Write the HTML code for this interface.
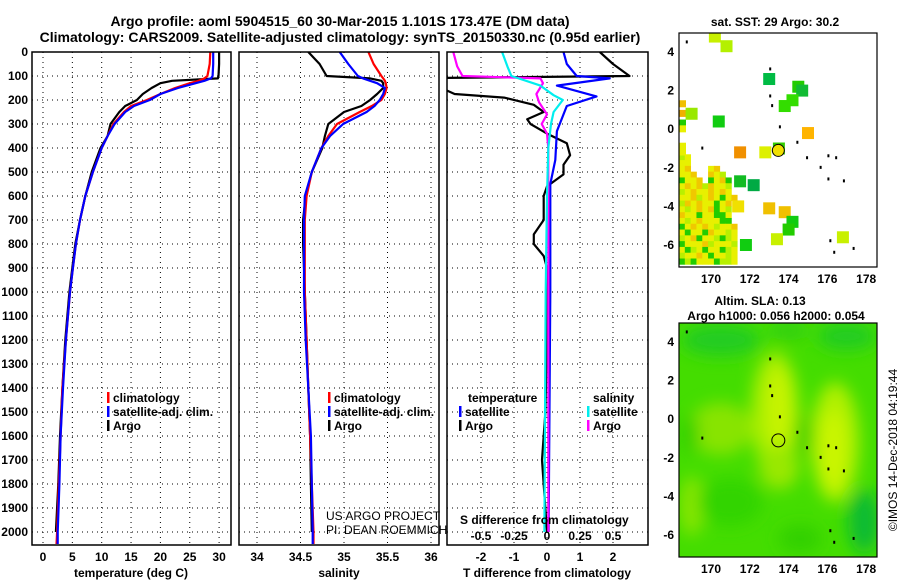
<!DOCTYPE html>
<html><head><meta charset="utf-8"><style>
html,body{margin:0;padding:0;background:#fff}
svg{display:block;font-family:"Liberation Sans",sans-serif}
.b{font-weight:bold;font-size:12px}
.t{font-weight:bold;font-size:14px}
</style></head><body>
<svg id="s" width="900" height="580" viewBox="0 0 900 580">
<defs>
<clipPath id="c1"><rect x="32" y="52" width="199" height="493"/></clipPath>
<clipPath id="c2"><rect x="239" y="52" width="200" height="493"/></clipPath>
<clipPath id="c3"><rect x="447" y="52" width="201" height="493"/></clipPath>
<clipPath id="cm1"><rect x="679" y="33" width="198" height="234"/></clipPath>
<clipPath id="cm2"><rect x="679" y="323" width="198" height="234"/></clipPath>
<filter id="blur" x="-50%" y="-50%" width="200%" height="200%"><feGaussianBlur stdDeviation="8"/></filter>
</defs>
<text class="t" x="340" y="26" text-anchor="middle">Argo profile: aoml 5904515_60 30-Mar-2015 1.101S 173.47E (DM data)</text>
<text class="t" x="340" y="42" text-anchor="middle">Climatology: CARS2009. Satellite-adjusted climatology: synTS_20150330.nc (0.95d earlier)</text>
<g id="g"></g>
</svg>
<script>
// ---------- data ----------
const depthTicks=[0,100,200,300,400,500,600,700,800,900,1000,1100,1200,1300,1400,1500,1600,1700,1800,1900,2000];
const tempTicks=[0,5,10,15,20,25,30];
const salTicks=[34,34.5,35,35.5,36];
const salTickLabels=["34","34.5","35","35.5","36"];
const tdiffTicks=[-2,-1,0,1,2];
const sdiffTicks=[-0.5,-0.25,0,0.25,0.5];
const sdiffTickLabels=["-0.5","-0.25","0","0.25","0.5"];
const lonTicks=[170,172,174,176,178];
const latTicks=[4,2,0,-2,-4,-6];

const depths=[0,50,100,110,120,130,150,175,200,225,250,300,350,400,500,600,700,800,900,1000,1200,1400,1600,1800,2000,2050];
const tempClim=[28.5,28.4,28.0,27.5,26.5,25,22.5,20,17.7,15,13.8,12,11,10,8.5,7.2,6.3,5.6,5.1,4.6,3.9,3.3,3.0,2.7,2.4,2.3];
const tempSat=[29,29,28.9,28.6,27.5,26,23,20,18.2,15.5,14,12.2,11,10,8.5,7.2,6.3,5.6,5.1,4.6,3.9,3.4,3.0,2.8,2.5,2.5];
const tempArgo=[30,30,29.9,29.8,22,20,18.5,17,16,14,13,11.5,11,9.8,8.3,7.2,6.3,5.5,5.0,4.5,3.8,3.3,2.9,2.6,2.2,null];
const salClim=[35.28,35.34,35.43,35.45,35.47,35.48,35.49,35.47,35.43,35.32,35.18,34.92,34.82,34.74,34.63,34.57,34.55,34.55,34.55,34.55,34.57,34.59,34.61,34.63,34.65,34.65];
const salSat=[34.95,35.05,35.16,35.22,35.3,35.38,35.47,35.45,35.41,35.35,35.26,34.99,34.84,34.74,34.63,34.55,34.54,34.54,34.54,34.54,34.56,34.59,34.62,34.63,34.64,34.64];
const salArgo=[34.59,34.72,34.8,35.3,35.43,35.45,35.45,35.38,35.3,35.2,35.0,34.82,34.78,34.75,34.63,34.56,34.53,34.53,34.54,34.55,34.57,34.59,34.61,34.62,34.63,null];

const tdArgoDepth=[0,50,100,108,130,150,175,190,220,250,280,300,340,380,430,470,510,560,600,700,760,800,850,900,1000,1200,1500,1700,2000];
const tdArgo=[1.6,2.0,2.5,-3.2,-3.2,-3.2,-2.8,-1.3,-0.4,-0.1,-0.6,-0.5,0.0,0.6,0.7,0.5,0.5,0.0,-0.1,-0.1,-0.4,-0.4,-0.1,0,0,0,-0.05,-0.15,0];
const tdSatDepth=[0,50,100,110,140,185,225,260,330,450,550,1000,2000];
const tdSat=[0.5,0.6,0.9,1.9,0.3,1.5,0.6,0.5,0.3,0.25,0.1,0.1,0.05];
const sdArgoDepth=[0,60,100,110,130,175,210,260,300,340,400,600,1000,2000];
const sdArgo=[-0.71,-0.68,-0.64,-0.05,-0.03,-0.08,-0.06,0,-0.04,0,0.01,0.01,0.01,0.01];
const sdSatDepth=[0,60,100,140,180,200,250,300,400,600,1000,2000];
const sdSat=[-0.34,-0.3,-0.27,-0.05,0.05,0.12,0.05,0.03,0.01,0,-0.01,-0.02];

// SST satellite squares [lon, lat, colour]
const sstLon=[170.2,170.8,173.0,174.5,174.7,174.2,173.8,169.0,170.4,175.0,171.5,172.8,173.5,171.5,172.2,171.4,173.0,173.8,174.2,174.0,176.8,171.8,173.4];
const sstLat=[4.8,4.3,2.6,2.2,2.0,1.5,1.2,0.8,0.4,-0.2,-1.2,-1.2,-1.0,-2.7,-2.9,-4.0,-4.1,-4.3,-4.8,-5.2,-5.6,-6.0,-5.7];
const sstCol=["#c8f000","#b4f000","#00bb44","#22cc00","#11bb33","#33dd00","#33dd00","#99e800","#11cc11","#ffb400","#f09000","#ddf000","#33cc00","#11bb22","#00aa44","#f0e000","#f0c000","#f0c000","#11cc11","#22cc00","#c8f000","#11cc11","#c8f000"];
</script>
<script>
const NS="http://www.w3.org/2000/svg";
const G=document.getElementById('g');
function el(tag,attrs,parent,text){const e=document.createElementNS(NS,tag);for(const k in attrs)e.setAttribute(k,attrs[k]);if(text!==undefined)e.textContent=text;(parent||G).appendChild(e);return e;}
const Y0=52,PXM=0.24;
function yD(d){return Y0+d*PXM;}
function xT(t){return 43+t*5.87;}
function xS(s){return 257+(s-34)*87;}
function xTD(t){return 547+t*33;}
function xSD(s){return 547+s*132;}
const panels=[{x:32,w:199,clip:'c1',name:'temperature-panel'},{x:239,w:200,clip:'c2',name:'salinity-panel'},{x:447,w:201,clip:'c3',name:'difference-panel'}];

function grid(p,xs){
  const g=el('g',{});
  
  
  depthTicks.forEach(d=>{el('line',{x1:p.x,x2:p.x+p.w,y1:yD(d),y2:yD(d),stroke:'#000','stroke-width':1,'stroke-dasharray':'1,4'},g);});
  xs.forEach(x=>{el('line',{x1:x,x2:x,y1:52,y2:545,stroke:'#000','stroke-width':1,'stroke-dasharray':'1,4'},g);});
}
grid(panels[0],tempTicks.map(xT));
grid(panels[1],salTicks.map(xS));
grid(panels[2],tdiffTicks.map(xTD));

function line(xs,ds,xf,color,clip,name){
  let pts=[];
  for(let i=0;i<xs.length;i++){if(xs[i]===null||xs[i]===undefined)continue;pts.push(xf(xs[i]).toFixed(1)+','+yD(ds[i]).toFixed(1));}
  const e=el('polyline',{points:pts.join(' '),fill:'none',stroke:color,'stroke-width':2.2,'clip-path':'url(#'+clip+')','stroke-linejoin':'round'});
  
  
}
line(tempArgo,depths,xT,'#000','c1','temp-argo-line');
line(tempClim,depths,xT,'#f00','c1','temp-climatology-line');
line(tempSat,depths,xT,'#00f','c1','temp-satellite-line');
line(salArgo,depths,xS,'#000','c2','salinity-argo-line');
line(salClim,depths,xS,'#f00','c2','salinity-climatology-line');
line(salSat,depths,xS,'#00f','c2','salinity-satellite-line');
line(tdArgo,tdArgoDepth,xTD,'#000','c3','tdiff-argo-line');
line(tdSat,tdSatDepth,xTD,'#00f','c3','tdiff-satellite-line');
line(sdArgo,sdArgoDepth,xSD,'#f0f','c3','sdiff-argo-line');
line(sdSat,sdSatDepth,xSD,'#0ee','c3','sdiff-satellite-line');

panels.forEach(p=>{const r=el('rect',{x:p.x,y:52,width:p.w,height:493,fill:'none',stroke:'#000','stroke-width':1.5});

});

depthTicks.forEach(d=>{const t=el('text',{x:28,y:yD(d)+4,'text-anchor':'end',class:'b'},G,String(d));

});
tempTicks.forEach(v=>{const t=el('text',{x:xT(v),y:561,'text-anchor':'middle',class:'b'},G,String(v));

});
salTicks.forEach((v,i)=>{const t=el('text',{x:xS(v),y:561,'text-anchor':'middle',class:'b'},G,salTickLabels[i]);

});
tdiffTicks.forEach(v=>{const t=el('text',{x:xTD(v),y:561,'text-anchor':'middle',class:'b'},G,String(v));

});
sdiffTicks.forEach((v,i)=>{const t=el('text',{x:xSD(v),y:540,'text-anchor':'middle',class:'b'},G,sdiffTickLabels[i]);

});

function txt(x,y,s,name,cls,anchor){const t=el('text',{x:x,y:y,class:cls||'b','text-anchor':anchor||'start'},G,s);

return t;}
txt(131,577,'temperature (deg C)','temp-axis-title','b','middle');
txt(339,577,'salinity','salinity-axis-title','b','middle');
txt(547,577,'T difference from climatology','tdiff-axis-title','b','middle');
txt(460,524,'S difference from climatology','sdiff-axis-title');
const us=txt(326,520,'US ARGO PROJECT','project-credit');us.setAttribute('class','');us.setAttribute('font-size','12');
const pi=txt(326,534,'PI: DEAN ROEMMICH','pi-credit');pi.setAttribute('class','');pi.setAttribute('font-size','12');

function leg(x,y,color,label,name){
  const r=el('rect',{x:x,y:y-10,width:2.5,height:11,fill:color});
  
  
  txt(x+6,y,label,name);
}
leg(107,402,'#f00','climatology','legend-temp-climatology');
leg(107,416,'#00f','satellite-adj. clim.','legend-temp-satellite');
leg(107,430,'#000','Argo','legend-temp-argo');
leg(328,402,'#f00','climatology','legend-sal-climatology');
leg(328,416,'#00f','satellite-adj. clim.','legend-sal-satellite');
leg(328,430,'#000','Argo','legend-sal-argo');
txt(468,402,'temperature','legend-temperature-heading');
leg(459,416,'#00f','satellite','legend-tdiff-satellite');
leg(459,430,'#000','Argo','legend-tdiff-argo');
txt(593,402,'salinity','legend-salinity-heading');
leg(587,416,'#0ee','satellite','legend-sdiff-satellite');
leg(587,430,'#f0f','Argo','legend-sdiff-argo');

// ---------- maps ----------
function mx(lon){return 711+(lon-170)*19.4;}
function my1(lat){return 52+(4-lat)*19.3;}
function my2(lat){return 342+(4-lat)*19.3;}
const m1=el('g',{'clip-path':'url(#cm1)'});


const cluster=[
"gy........",
"yy........",
"yo...yo...",
"yyo..oyg..",
"Gyyo.GyoG.",
"yoyogoyyg.",
"gyoyyoyoy.",
"yyogyoyGyo",
"goyoyyGyo.",
"ygyoyoGyg.",
"oyyGyyGGy.",
"ygyoyyyGG.",
"Gyoyoygyyo",
"yGyyGoyygy",
"gyoGyygGgy",
"Gyyyogyyyg",
"yGgyGyyGgy",
"gyyoyGyygy",
"GgGyyyGggy"];
const cc={y:'#e8f000',o:'#f0c800',g:'#b8f000',G:'#22cc00'};
cluster.forEach((row,ri)=>{for(let ci=0;ci<row.length;ci++){const ch=row[ci];if(ch==='.')continue;
const r=el('rect',{x:mx(168.35+ci*0.3),y:my1(-1.3-ri*0.3),width:6.2,height:6.2,fill:cc[ch]},m1);

}});
[[1.5,'#f0c000'],[1.0,'#f0b000'],[0.5,'#22cc00'],[0.2,'#e8f000'],[-0.7,'#e8f000'],[-1.0,'#e8f000']].forEach(a=>{
const r=el('rect',{x:679,y:my1(a[0]),width:7,height:7,fill:a[1]},m1);

});
sstLon.forEach((lon,i)=>{const r=el('rect',{x:mx(lon)-6,y:my1(sstLat[i])-6,width:12,height:12,fill:sstCol[i]},m1);

});
const m2=el('g',{'clip-path':'url(#cm2)'});


el('rect',{x:679,y:323,width:198,height:234,fill:'#44dd00'},m2);
const bl=el('g',{filter:'url(#blur)'},m2);
[[170.5,-0.5,32,26,'#88e400'],[173.3,0.3,24,62,'#a8ee00'],[173.5,0.5,12,42,'#c8f400'],[176.4,-1.2,24,60,'#b0f000'],[176.3,-1.6,12,40,'#ccf600'],[173.5,-2.5,20,22,'#99e800'],[169,-4.5,12,30,'#88e600'],
 [170.5,4.1,40,16,'#22cc22'],[177,4.3,30,14,'#22cc22'],[174,4.6,20,10,'#33d010'],[177.9,-5.3,16,32,'#11bb33'],[171,-4.3,32,24,'#33d400'],[174.6,-6.2,22,14,'#33d000'],[174.8,-0.8,9,22,'#33d000'],[168.9,-0.8,9,20,'#33d000']].forEach(a=>{
el('ellipse',{cx:mx(a[0]),cy:my2(a[1]),rx:a[2],ry:a[3],fill:a[4]},bl);});
[[173,3.2],[173,1.8],[173.1,1.3],[173.5,0.2],[174.4,-0.6],[174.9,-1.4],[175.6,-1.9],[176,-1.3],[176.4,-1.4],[176.8,-2.6],[176,-2.5],[176.1,-5.7],[176.3,-6.3],[177.3,-6.1],[169.5,-0.9],[168.7,4.6]].forEach(p=>{
[my1,my2].forEach(f=>{const r=el('rect',{x:mx(p[0]),y:f(p[1]),width:2,height:3,fill:'#000'});

});});
const c1=el('circle',{cx:mx(173.47),cy:my1(-1.1),r:6,fill:'#f0e000',stroke:'#000','stroke-width':1});


const c2=el('circle',{cx:mx(173.47),cy:my2(-1.1),r:6.5,fill:'none',stroke:'#000','stroke-width':1});


[[33,'sst-map-frame'],[323,'sla-map-frame']].forEach(a=>{const r=el('rect',{x:679,y:a[0],width:198,height:234,fill:'none',stroke:'#000','stroke-width':1.2});

});
[[my1,283],[my2,573]].forEach(m=>{
latTicks.forEach(v=>{const t=el('text',{x:674,y:m[0](v)+4,'text-anchor':'end',class:'b'},G,String(v));

});
lonTicks.forEach(v=>{const t=el('text',{x:mx(v),y:m[1],'text-anchor':'middle',class:'b'},G,String(v));

});});
txt(775,26,'sat. SST: 29 Argo: 30.2','sst-map-title','b','middle');
txt(760,305,'Altim. SLA: 0.13','sla-map-title','b','middle');
txt(776,320,'Argo h1000: 0.056 h2000: 0.054','argo-height-title','b','middle');
const cr=el('text',{x:0,y:0,'font-size':12,'text-anchor':'middle',transform:'translate(897,450) rotate(-90)'},G,'©IMOS 14-Dec-2018 04:19:44');


</script>
</body></html>
